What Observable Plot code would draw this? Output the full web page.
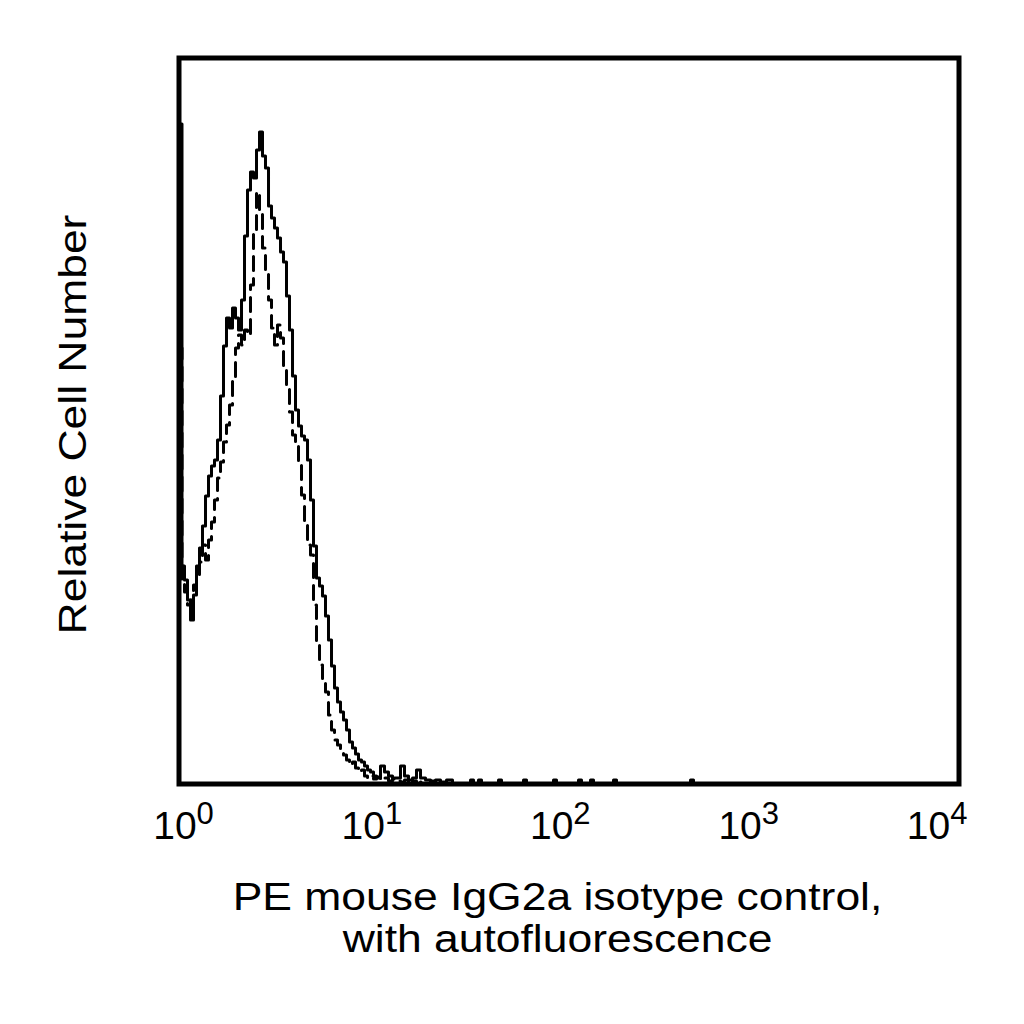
<!DOCTYPE html>
<html><head><meta charset="utf-8">
<script src="https://cdn.jsdelivr.net/npm/d3@7"></script>
<script src="https://cdn.jsdelivr.net/npm/@observablehq/plot@0.6"></script>
<style>html,body{margin:0;padding:0;background:#fff}</style>
</head><body><div id="chart"></div>
<script>
// x positions in log10 decades of fluorescence intensity (shared channel grid)
const decades = [-0.0239,-0.0080,0.0053,0.0212,0.0372,0.0531,0.0690,0.0849,0.1008,0.1168,
0.1327,0.1486,0.1645,0.1805,0.1964,0.2123,0.2282,0.2442,0.2601,0.2760,
0.2919,0.3079,0.3238,0.3397,0.3556,0.3715,0.3875,0.4034,0.4193,0.4352,
0.4512,0.4671,0.4830,0.4989,0.5149,0.5308,0.5467,0.5626,0.5786,0.5945,
0.6104,0.6263,0.6423,0.6582,0.6741,0.6900,0.7059,0.7219,0.7378,0.7537,
0.7696,0.7856,0.8015,0.8174,0.8333,0.8493,0.8652,0.8811,0.8970,0.9130,
0.9289,0.9448,0.9607,0.9767,0.9926,1.0085,1.0244,1.0457,1.0669,1.0881,
1.1094,1.1306,1.1518,1.1730,1.1943,1.2155,1.2367,1.2580,1.2845,1.3111,
1.3376,1.3641,1.3960,1.4278,1.5234,1.5393,1.5658,1.5818,1.6720,1.6879,
1.8047,1.8206,1.9639,1.9798,2.0966,2.1125,2.1603,2.1762,2.2824,2.2983,
2.6911,2.7070,4.0022];

// solid histogram (relative cell counts)
const solidCounts = [660,218,204,184,164,189,218,236,258,288,
308,318,324,344,388,438,466,456,476,466,
454,484,548,594,612,606,634,652,628,616,
578,566,556,546,532,522,488,454,408,374,
358,348,344,324,284,238,206,198,188,168,
144,118,96,82,72,64,54,42,36,30,
24,22,18,14,12,8,6,18,12,8,
6,6,18,8,4,6,14,6,4,2,
4,2,4,0,4,0,4,0,4,0,
4,0,4,0,4,0,4,0,4,0,
4,0,0];

// dashed histogram (relative cell counts)
const dashedCounts = [436,204,192,179,184,199,209,222,239,224,
244,262,284,306,322,342,359,379,404,436,
449,439,454,449,499,554,592,574,536,512,
484,456,439,459,446,416,396,372,349,339,
319,289,259,239,229,179,139,119,104,92,
69,54,44,39,34,29,24,19,22,16,
12,14,8,6,8,5,7,4,6,3,
5,3,2,4,0,3,0,2,0,3,
0,0,0,0,0,0,0,0,0,0,
0,0,0,0,0,0,0,0,0,0,
0,0,0];

const tickDecades = [0, 1, 2, 3, 4];
const tickBase = "10";
const tickExponents = ["0", "1", "2", "3", "4"];
const yLabel = "Relative Cell Number";
const xLabelLines = ["PE mouse IgG2a isotype control,", "with autofluorescence"];

const solid = decades.map((x, i) => ({x, y: solidCounts[i]}));
const dashed = decades.map((x, i) => ({x, y: dashedCounts[i]}));
const font = "'Liberation Sans', Arial, Helvetica, sans-serif";

const plot = Plot.plot({
  width: 1024, height: 1024,
  marginLeft: 178.5, marginRight: 65.5, marginTop: 57.5, marginBottom: 240.5,
  style: {fontFamily: font, background: "white", color: "black"},
  x: {domain: [-0.0239, 4.1162]},
  y: {domain: [0, 726], axis: null},
  marks: [
    Plot.line(dashed, {x: "x", y: "y", curve: "step-after", stroke: "black", strokeWidth: 3, strokeDasharray: "14,8"}),
    Plot.line(solid, {x: "x", y: "y", curve: "step-after", stroke: "black", strokeWidth: 3}),
    Plot.frame({stroke: "black", strokeWidth: 5}),
    Plot.axisX({ticks: tickDecades, tickFormat: () => tickBase, tickSize: 0, tickPadding: 27, fontSize: 39, fontFamily: font, label: null}),
    Plot.text([yLabel], {text: d => d, frameAnchor: "left", textAnchor: "middle", rotate: -90, dx: -93.5, dy: 3.5, lineAnchor: "bottom", fontSize: 39, fontFamily: font, fill: "black"}),
    Plot.text([xLabelLines[0]], {text: d => d, frameAnchor: "bottom", textAnchor: "middle", dx: -11.5, dy: 125.5, lineAnchor: "bottom", fontSize: 39, fontFamily: font, fill: "black"}),
    Plot.text([xLabelLines[1]], {text: d => d, frameAnchor: "bottom", textAnchor: "middle", dx: -11.5, dy: 168, lineAnchor: "bottom", fontSize: 39, fontFamily: font, fill: "black"})
  ]
});
document.getElementById("chart").appendChild(plot);

// superscript exponents on tick labels
d3.select(plot).selectAll('g[aria-label="x-axis tick label"] text').each(function (d, i) {
  d3.select(this).append("tspan").attr("dy", -15).attr("font-size", 31).text(tickExponents[i]);
});

// horizontal stretch of the axis titles to match the reference lettering
d3.select(plot).selectAll("text").each(function () {
  const t = this.textContent;
  if (t === yLabel || xLabelLines.includes(t)) {
    const b = this.getBBox();
    const cx = b.x + b.width / 2, cy = b.y + b.height / 2;
    const prev = this.getAttribute("transform") || "";
    this.setAttribute("transform", `${prev} translate(${cx},${cy}) scale(1.14,1) translate(${-cx},${-cy})`);
  }
});
</script>
</body></html>
